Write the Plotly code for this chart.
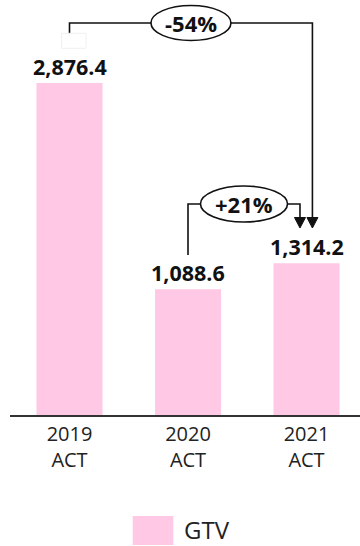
import plotly.graph_objects as go

# Gross transaction value by year
categories = ["2019<br>ACT", "2020<br>ACT", "2021<br>ACT"]
gtv = [2876.4, 1088.6, 1314.2]
value_labels = ["2,876.4", "1,088.6", "1,314.2"]
change_labels = ["-54%", "+21%"]
legend_name = "GTV"

BAR_COLOR = "#FFC8E5"
FONT = "Open Sans"

W, H = 360, 546
ML, MR, MT, MB = 10, 0, 0, 131
plot_h = H - MT - MB          # 415 px
plot_w = W - ML - MR          # 350 px
cat_px = 118.5                # px per category step
x0 = -59.5 / cat_px
x_range = [x0, x0 + plot_w / cat_px]
y_max = gtv[0] * plot_h / 332.0
y_range = [0, y_max]
pu = y_max / plot_h           # data units per pixel


def px(v):
    return v * pu


x = list(range(len(categories)))

fig = go.Figure()
fig.add_trace(go.Bar(
    x=x, y=gtv, width=0.557, marker=dict(color=BAR_COLOR, line=dict(width=0)),
    name=legend_name, showlegend=False, hoverinfo="skip",
))

annotations = []
for i, (v, t) in enumerate(zip(gtv, value_labels)):
    annotations.append(dict(
        x=i, y=v, xref="x", yref="y", text=f"<b>{t}</b>", showarrow=False,
        yanchor="middle", yshift=17, font=dict(family=FONT, size=21.5, color="#111"),
    ))

shapes = []
line_style = dict(color="#111", width=1.6)

# Bracket 2019 -> 2021
xa, xb = 0, 2 + 0.05
y_top1 = px(392)
y_tip = px(187)
shapes.append(dict(type="path", xref="x", yref="y",
                   path=f"M {xa},{px(381.7)} L {xa},{y_top1} L {xb},{y_top1} L {xb},{y_tip + px(5)}",
                   line=line_style))
# Bracket 2020 -> 2021
xc, xd = 1, 2 - 0.055
y_top2 = px(211)
shapes.append(dict(type="path", xref="x", yref="y",
                   path=f"M {xc},{px(160)} L {xc},{y_top2} L {xd},{y_top2} L {xd},{y_tip + px(5)}",
                   line=line_style))

# Arrowheads
for xx in (xb, xd):
    shapes.append(dict(type="path", xref="x", yref="y",
                       xsizemode="pixel", ysizemode="pixel", xanchor=xx, yanchor=y_tip,
                       path="M -5.5,10.5 L 5.5,10.5 L 0,0 Z",
                       fillcolor="#111", line=dict(color="#111", width=1)))

# Faint placeholder box above the first bracket
shapes.append(dict(type="rect", xref="x", yref="y",
                   x0=-0.066, x1=0.139, y0=px(415 - 48.3), y1=px(415 - 33.3),
                   line=dict(color="#f0f0f0", width=1), fillcolor="rgba(0,0,0,0)"))

# Change ovals
ovals = [((xa + xb) / 2, y_top1, 40, 17.5, change_labels[0]),
         ((xc + xd) / 2, y_top2, 43.5, 18, change_labels[1])]
for cx, cy, rx, ry, txt in ovals:
    shapes.append(dict(type="circle", xref="x", yref="y",
                       xsizemode="pixel", ysizemode="pixel", xanchor=cx, yanchor=cy,
                       x0=-rx, x1=rx, y0=-ry, y1=ry,
                       fillcolor="white", line=dict(color="#111", width=1.6)))
    annotations.append(dict(x=cx, y=cy, xref="x", yref="y", text=f"<b>{txt}</b>",
                            showarrow=False, yanchor="middle", xanchor="center",
                            font=dict(family=FONT, size=22, color="#111")))

# Legend swatch and label
def paper_x(p):
    return (p - ML) / plot_w


def paper_y(p):
    return (plot_h - p) / plot_h


shapes.append(dict(type="rect", xref="paper", yref="paper",
                   x0=paper_x(132.7), x1=paper_x(173.3), y0=paper_y(545), y1=paper_y(516),
                   fillcolor=BAR_COLOR, line=dict(width=0)))
annotations.append(dict(x=paper_x(182), y=paper_y(529), xref="paper", yref="paper",
                        text=legend_name, showarrow=False, xanchor="left", yanchor="middle",
                        font=dict(family=FONT, size=24, color="#222")))

fig.update_layout(
    width=W, height=H,
    margin=dict(l=ML, r=MR, t=MT, b=MB, pad=0),
    plot_bgcolor="white", paper_bgcolor="white",
    showlegend=False,
    shapes=shapes, annotations=annotations,
    xaxis=dict(range=x_range, tickvals=x, ticktext=categories, showgrid=False,
               zeroline=False, showline=True, linecolor="#333", linewidth=1.5,
               ticks="", tickfont=dict(family=FONT, size=20, color="#222"),
               fixedrange=True),
    yaxis=dict(range=y_range, visible=False, showgrid=False, zeroline=False, fixedrange=True),
)

fig.write_html("out.html")
